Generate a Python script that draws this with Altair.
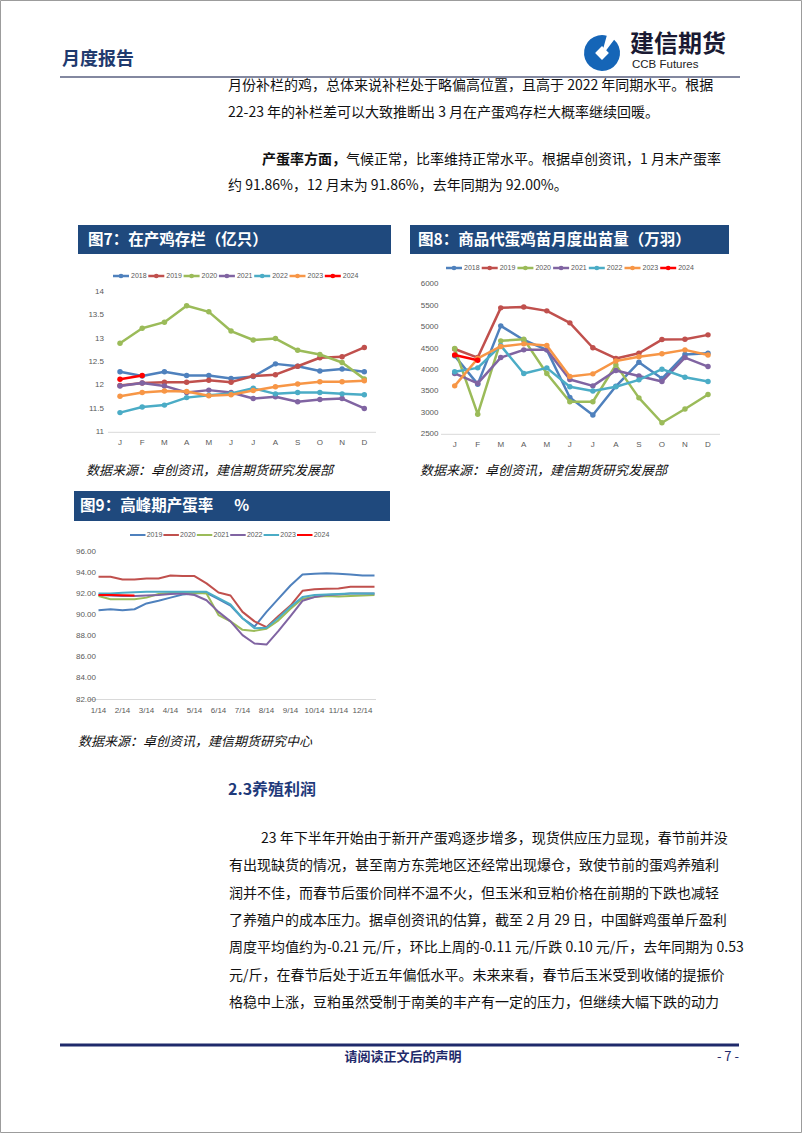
import altair as alt
import pandas as pd

FONT = "Noto Sans CJK SC"
LAT = "Liberation Sans"

# ---------------- data ----------------
years7 = ["2018", "2019", "2020", "2021", "2022", "2023", "2024"]
month_labels = ["J", "F", "M", "A", "M", "J", "J", "A", "S", "O", "N", "D"]

# Fig 7: layers in production (100 million birds)
stock_2018 = [12.29, 12.20, 12.29, 12.21, 12.21, 12.15, 12.19, 12.46, 12.41, 12.31, 12.35, 12.29]
stock_2019 = [12.00, 12.05, 12.07, 12.07, 12.11, 12.07, 12.20, 12.23, 12.41, 12.59, 12.61, 12.81]
stock_2020 = [12.90, 13.22, 13.35, 13.70, 13.57, 13.16, 12.97, 13.00, 12.75, 12.66, 12.49, 12.14]
stock_2021 = [11.99, 12.05, 11.99, 11.85, 11.90, 11.85, 11.72, 11.76, 11.65, 11.70, 11.72, 11.51]
stock_2022 = [11.42, 11.54, 11.58, 11.74, 11.79, 11.83, 11.94, 11.82, 11.85, 11.85, 11.82, 11.80]
stock_2023 = [11.77, 11.85, 11.88, 11.87, 11.78, 11.80, 11.89, 11.97, 12.03, 12.08, 12.08, 12.10]
stock_2024 = [12.13, 12.21]
stock_ticks = [11, 11.5, 12, 12.5, 13, 13.5, 14]
stock_tick_labels = ["11", "11.5", "12", "12.5", "13", "13.5", "14"]

# Fig 8: monthly chick output (10k)
chick_2018 = [4330, 3670, 5030, 4700, 4470, 3360, 2950, 3620, 4180, 3800, 4360, 4390]
chick_2019 = [4490, 4290, 5450, 5470, 5380, 5100, 4520, 4270, 4390, 4710, 4720, 4820]
chick_2020 = [4500, 2970, 4680, 4720, 3920, 3260, 3260, 4120, 3350, 2770, 3090, 3430]
chick_2021 = [3920, 3690, 4290, 4470, 4470, 3780, 3630, 3990, 3860, 3730, 4290, 4080]
chick_2022 = [3960, 4050, 4570, 3920, 4050, 3610, 3510, 3610, 3770, 4020, 3830, 3730]
chick_2023 = [3630, 4270, 4550, 4610, 4570, 3850, 3910, 4210, 4310, 4380, 4470, 4350]
chick_2024 = [4350, 4230]
chick_ticks = [2500, 3000, 3500, 4000, 4500, 5000, 5500, 6000]
chick_tick_labels = ["2500", "3000", "3500", "4000", "4500", "5000", "5500", "6000"]

# Fig 9: peak-period laying rate (%), half-month readings
years9 = ["2019", "2020", "2021", "2022", "2023", "2024"]
rate_2019 = [90.45, 90.55, 90.45, 90.55, 91.10, 91.35, 91.65, 91.95, 92.05, 92.10, 91.50, 90.90,
             89.70, 88.90, 90.30, 91.55, 92.80, 93.85, 93.90, 93.95, 93.90, 93.85, 93.75, 93.75]
rate_2020 = [93.63, 93.63, 93.37, 93.37, 93.47, 93.47, 93.75, 93.69, 93.69, 93.00, 92.14, 91.85,
             90.30, 89.40, 88.85, 89.90, 90.90, 92.30, 92.45, 92.50, 92.52, 92.68, 92.68, 92.68]
rate_2021 = [91.80, 91.50, 91.50, 91.50, 91.65, 92.00, 92.10, 92.15, 92.10, 92.05, 90.00, 89.40,
             88.60, 88.50, 88.70, 89.50, 90.60, 91.55, 91.70, 91.80, 91.75, 91.80, 91.85, 91.90]
rate_2022 = [91.90, 91.85, 91.80, 91.80, 91.85, 91.90, 92.00, 92.05, 91.90, 91.40, 90.30, 89.40,
             88.10, 87.30, 87.20, 88.50, 89.90, 91.35, 91.70, 91.90, 91.95, 92.05, 92.05, 92.05]
rate_2023 = [92.05, 92.05, 92.10, 92.15, 92.20, 92.20, 92.20, 92.20, 92.20, 92.20, 91.60, 91.00,
             89.70, 88.75, 88.80, 89.75, 90.80, 91.70, 91.90, 91.95, 92.00, 92.05, 92.05, 92.05]
rate_2024 = [91.90, 91.90, 91.88, 91.86]
rate_ticks = [82, 84, 86, 88, 90, 92, 94, 96]
rate_tick_labels = ["82.00", "84.00", "86.00", "88.00", "90.00", "92.00", "94.00", "96.00"]
rate_x_labels = ["1/14", "2/14", "3/14", "4/14", "5/14", "6/14", "7/14", "8/14", "9/14", "10/14", "11/14", "12/14"]

# text
para1 = ["月份补栏的鸡，总体来说补栏处于略偏高位置，且高于 2022 年同期水平。根据",
         "22-23 年的补栏差可以大致推断出 3 月在产蛋鸡存栏大概率继续回暖。"]
para2_bold = "产蛋率方面，"
para2_rest = "气候正常，比率维持正常水平。根据卓创资讯，1 月末产蛋率"
para2_line2 = "约 91.86%，12 月末为 91.86%，去年同期为 92.00%。"
section = "2.3养殖利润"
para3 = ["23 年下半年开始由于新开产蛋鸡逐步增多，现货供应压力显现，春节前并没",
         "有出现缺货的情况，甚至南方东莞地区还经常出现爆仓，致使节前的蛋鸡养殖利",
         "润并不佳，而春节后蛋价同样不温不火，但玉米和豆粕价格在前期的下跌也减轻",
         "了养殖户的成本压力。据卓创资讯的估算，截至 2 月 29 日，中国鲜鸡蛋单斤盈利",
         "周度平均值约为-0.21 元/斤，环比上周的-0.11 元/斤跌 0.10 元/斤，去年同期为 0.53",
         "元/斤，在春节后处于近五年偏低水平。未来来看，春节后玉米受到收储的提振价",
         "格稳中上涨，豆粕虽然受制于南美的丰产有一定的压力，但继续大幅下跌的动力"]
title7 = "图7：在产鸡存栏（亿只）"
title8 = "图8：商品代蛋鸡苗月度出苗量（万羽）"
title9 = "图9：高峰期产蛋率\u00a0\u00a0\u00a0\u00a0\u00a0\u00a0%"
source78 = "数据来源：卓创资讯，建信期货研究发展部"
source9 = "数据来源：卓创资讯，建信期货研究中心"

# ---------------- styles ----------------
pal7 = ["#4F81BD", "#C0504D", "#9BBB59", "#8064A2", "#4BACC6", "#F79646", "#FF0000"]
pal9 = ["#4F81BD", "#C0504D", "#9BBB59", "#8064A2", "#4BACC6", "#FF0000"]
NAVY = "#1F497D"
TICK = "#595959"

one = pd.DataFrame({"k": [0]})


def PX(f):
    return alt.X(f + ":Q", scale=None, axis=None)


def PY(f):
    return alt.Y(f + ":Q", scale=None, axis=None)


def texts(rows, size, color, weight="normal", style="normal", align="left", font=FONT):
    df = pd.DataFrame(rows, columns=["tx", "ty", "t"])
    return alt.Chart(df).mark_text(align=align, baseline="middle", fontSize=size, color=color,
                                   fontWeight=weight, fontStyle=style, font=font).encode(
        x=PX("tx"), y=PY("ty"), text="t:N")


def hline(x1, x2, y, color, w):
    df = pd.DataFrame({"a": [x1], "b": [x2], "c": [y]})
    return alt.Chart(df).mark_rule(color=color, strokeWidth=w).encode(
        x=PX("a"), x2="b:Q", y=PY("c"))


def rect(x1, x2, y1, y2, fill):
    df = pd.DataFrame({"a": [x1], "b": [x2], "c": [y1], "d": [y2]})
    return alt.Chart(df).mark_rect(color=fill).encode(x=PX("a"), x2="b:Q", y=PY("c"), y2="d:Q")


def line_chart(xs, series, colors, xscale, yscale, ticks, tick_labels, ylab_x, xlabels, xlab_pos,
               xlab_y, axis_y0, axis_x1, axis_x2, lw, psize):
    xe = alt.X("m:Q", scale=xscale, axis=None)
    ye = alt.Y("v:Q", scale=yscale, axis=None)
    layers = []
    adf = pd.DataFrame({"v": [axis_y0]})
    layers.append(alt.Chart(adf).mark_rule(color="#D9D9D9", strokeWidth=1).encode(
        y=ye, x=alt.value(axis_x1), x2=alt.value(axis_x2)))
    for vals, col in zip(series, colors):
        df = pd.DataFrame({"m": xs[:len(vals)], "v": vals})
        base = alt.Chart(df)
        layers.append(base.mark_line(color=col, strokeWidth=lw, strokeJoin="round").encode(x=xe, y=ye))
        if psize:
            layers.append(base.mark_circle(color=col, size=psize, opacity=1).encode(x=xe, y=ye))
    tdf = pd.DataFrame({"v": ticks, "t": tick_labels})
    layers.append(alt.Chart(tdf).mark_text(align="right", baseline="middle", fontSize=8, color=TICK,
                                           font=LAT).encode(y=ye, x=alt.value(ylab_x), text="t:N"))
    xdf = pd.DataFrame({"m": xlab_pos, "t": xlabels})
    layers.append(alt.Chart(xdf).mark_text(align="center", baseline="middle", fontSize=8, color=TICK,
                                           font=LAT).encode(x=xe, y=alt.value(xlab_y), text="t:N"))
    return alt.layer(*layers)


def legend(labels, colors, x0, step, y, seg, gap, lw, marker):
    rows = []
    for i, (lab, col) in enumerate(zip(labels, colors)):
        xs = x0 + i * step
        rows.append({"a": xs, "b": xs + seg, "m": xs + seg / 2, "tx": xs + seg + gap, "y": y,
                     "c": col, "t": lab})
    df = pd.DataFrame(rows)
    base = alt.Chart(df)
    ls = [base.mark_rule(strokeWidth=lw).encode(x=PX("a"), x2="b:Q", y=PY("y"),
                                                color=alt.Color("c:N", scale=None))]
    if marker:
        ls.append(base.mark_circle(size=22, opacity=1).encode(x=PX("m"), y=PY("y"),
                                                            color=alt.Color("c:N", scale=None)))
    ls.append(base.mark_text(align="left", baseline="middle", fontSize=7, color=TICK, font=LAT).encode(
        x=PX("tx"), y=PY("y"), text="t:N"))
    return alt.layer(*ls)


months = list(range(1, 13))
half_months = [i * 0.5 for i in range(24)]

chart7 = line_chart(months,
                    [stock_2018, stock_2019, stock_2020, stock_2021, stock_2022, stock_2023, stock_2024],
                    pal7,
                    alt.Scale(domain=[1, 12], range=[120, 364.3], nice=False, zero=False),
                    alt.Scale(domain=[11, 14], range=[432.3, 291.7], nice=False, zero=False),
                    stock_ticks, stock_tick_labels, 104, month_labels, months, 443, 11, 108, 376, 2.5, 30)

chart8 = line_chart(months,
                    [chick_2018, chick_2019, chick_2020, chick_2021, chick_2022, chick_2023, chick_2024],
                    pal7,
                    alt.Scale(domain=[1, 12], range=[454.7, 708], nice=False, zero=False),
                    alt.Scale(domain=[2500, 6000], range=[434.3, 284.3], nice=False, zero=False),
                    chick_ticks, chick_tick_labels, 438.5, month_labels, months, 445, 2500, 441, 720, 2.5, 30)

chart9 = line_chart(half_months,
                    [rate_2019, rate_2020, rate_2021, rate_2022, rate_2023, rate_2024],
                    pal9,
                    alt.Scale(domain=[0, 11], range=[98.5, 362.5], nice=False, zero=False),
                    alt.Scale(domain=[82, 96], range=[699.5, 551.7], nice=False, zero=False),
                    rate_ticks, rate_tick_labels, 96, rate_x_labels, list(range(12)), 711, 82, 88, 376, 2, 0)

# logo
logo_arc = alt.Chart(one).mark_arc(radius=18, radius2=0, theta=0.72, theta2=6.55, color="#1565B7").encode(
    x=alt.value(602), y=alt.value(53))
logo_diamond = alt.Chart(one).mark_point(shape="diamond", filled=True, size=190, color="white", opacity=1).encode(
    x=alt.value(602), y=alt.value(53))
logo_slit = alt.Chart(one).mark_rule(color="white", strokeWidth=3.5).encode(
    x=alt.value(602), y=alt.value(53), x2=alt.value(614), y2=alt.value(37))

border = alt.Chart(one).mark_rect(fill=None, stroke="#9C9C9C", strokeWidth=1).encode(
    x=alt.value(0.5), x2=alt.value(801.5), y=alt.value(0.5), y2=alt.value(1132.5))

layers = [
    hline(60, 740, 77, "#5A6080", 1.5),
    texts([(62, 60, "月度报告")], 18, "#1F3A6E", weight="bold"),
    logo_arc, logo_diamond, logo_slit,
    texts([(630, 45, "建信期货")], 24, "#1A1A33", weight="bold"),
    texts([(632, 64.5, "CCB Futures")], 11.5, "#222222", font=LAT),
    texts([(228, 86 + i * 27, s) for i, s in enumerate(para1)], 14, "#111111"),
    texts([(262, 160, para2_bold)], 14, "#111111", weight="bold"),
    texts([(346, 160, para2_rest), (228, 186, para2_line2)], 14, "#111111"),
    rect(78, 391, 225, 254, NAVY),
    rect(410, 729, 225, 254, NAVY),
    rect(74, 390, 491, 521, NAVY),
    texts([(88, 240, title7), (418, 240, title8), (80, 506, title9)], 15.5, "white", weight="bold"),
    legend(years7, pal7, 113, 35.3, 276, 16, 2, 2.5, True),
    legend(years7, pal7, 446, 35.7, 268, 16, 2, 2.5, True),
    legend(years9, pal9, 130, 33.4, 535, 15.5, 1.2, 2, False),
    chart7, chart8, chart9,
    texts([(86, 471, source78), (420, 471, source78), (78, 742, source9)], 13, "#111111", style="italic"),
    texts([(228, 790, section)], 16, "#1F3A7A", weight="bold"),
    texts([((261 if i == 0 else 229), 839 + i * 27.3, s) for i, s in enumerate(para3)], 14, "#111111"),
    hline(60, 739, 1045, "#1F2A6B", 3),
    texts([(403, 1057, "请阅读正文后的声明")], 13, "#1F2A6B", weight="bold", align="center"),
    texts([(739, 1057, "- 7 -")], 13, "#1F2A6B", align="right"),
    border,
]

chart = alt.layer(*layers).resolve_scale(x="independent", y="independent").properties(
    width=802, height=1133, padding=0, background="white",
    autosize=alt.AutoSizeParams(type="none"),
).configure_view(stroke=None)

chart.save("out.html", embed_options={"renderer": "svg", "actions": False})
